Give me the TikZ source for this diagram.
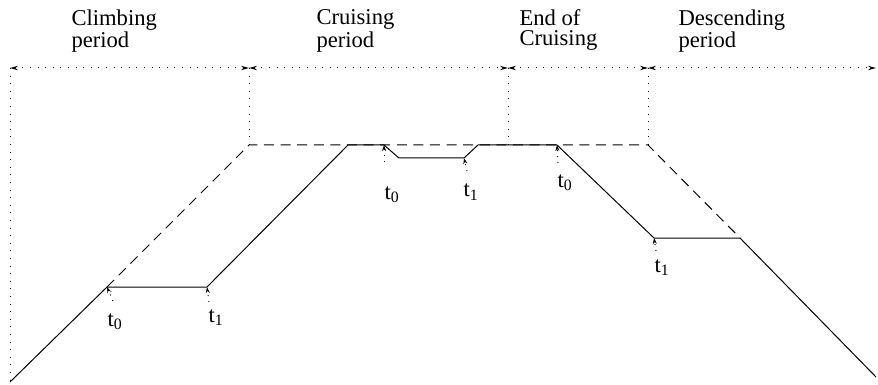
\documentclass[tikz,border=0pt]{standalone}
\usepackage{fontspec}
\setmainfont{Liberation Serif}
\usetikzlibrary{arrows.meta}

\begin{document}
\begin{tikzpicture}[x=0.5pt,y=-0.5pt,line width=0.5pt,
 phase/.style={anchor=north west,inner sep=0pt,align=left,
  font=\fontsize{11.3}{10}\selectfont},
 tlabel/.style={anchor=base west,inner sep=0pt,font=\fontsize{11.3}{12}\selectfont},
 spanline/.style={dash pattern=on 0.5pt off 3.3pt,
  {Stealth[open,length=4pt,width=2.2pt]}-{Stealth[open,length=4pt,width=2.2pt]}},
 guide/.style={dash pattern=on 0.5pt off 3.3pt},
 ideal/.style={dash pattern=on 5pt off 3.3pt},
 pointer/.style={dash pattern=on 0.5pt off 2.5pt,-{Stealth[length=3pt,width=2pt]}}]
\useasboundingbox (0,0) rectangle (878,385);
% period boundaries
\coordinate (p0) at (10,68);
\coordinate (p1) at (249,68);
\coordinate (p2) at (508,68);
\coordinate (p3) at (648,68);
\coordinate (p4) at (876,68);
\node[phase] (climb) at (71,9) {Climbing\\period};
\node[phase] (cruise) at (316,9) {Cruising\\period};
\node[phase] (endcr) at (519,9) {End of\\Cruising};
\node[phase] (descend) at (678,9) {Descending\\period};
\draw[spanline] (p0)--(p1);
\draw[spanline] (p1)--(p2);
\draw[spanline] (p2)--(p3);
\draw[spanline] (p3)--(p4);
\draw[guide] (p0)--(10,382);
\draw[guide] (p1)--(249,145);
\draw[guide] (p2)--(508,145);
\draw[guide] (p3)--(648,145);
% planned profile
\draw[ideal] (107,287)--(249,145)--(648,145)--(740,238);
% flown profile
\coordinate (a0) at (107,287);
\coordinate (a1) at (207,287);
\coordinate (b0) at (384,145);
\coordinate (b1) at (464,158);
\coordinate (c0) at (557,145);
\coordinate (c1) at (654,238);
\draw (10,382)--(a0)--(a1)--(348,145)--(b0)--(399,158)--(b1)--(478,145)
 --(c0)--(c1)--(740,238)--(876,377);
% event times
\node[tlabel] (ta0) at (107,326) {t\textsubscript{0}};
\node[tlabel] (ta1) at (208,322) {t\textsubscript{1}};
\node[tlabel] (tb0) at (384,199) {t\textsubscript{0}};
\node[tlabel] (tb1) at (463,197) {t\textsubscript{1}};
\node[tlabel] (tc0) at (557,187) {t\textsubscript{0}};
\node[tlabel] (tc1) at (654,272) {t\textsubscript{1}};
\draw[pointer] (113,301)--(a0);
\draw[pointer] (209,302)--(a1);
\draw[pointer] (384,162)--(b0);
\draw[pointer] (467,171)--(b1);
\draw[pointer] (558,163)--(c0);
\draw[pointer] (656,251)--(c1);
\end{tikzpicture}
\end{document}
